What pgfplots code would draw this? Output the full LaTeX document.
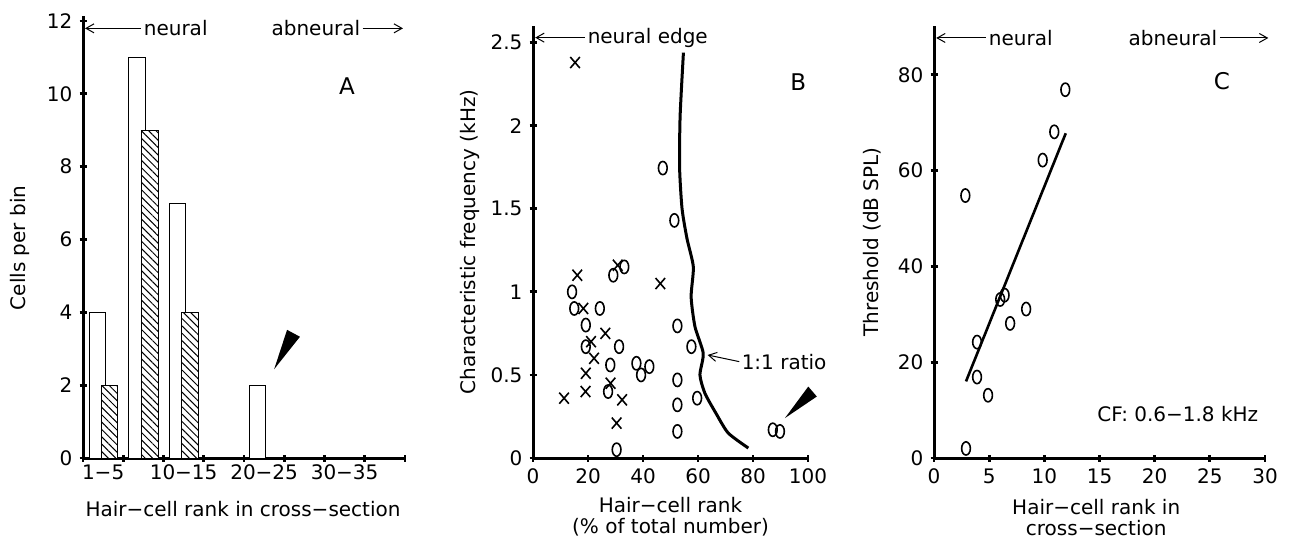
\documentclass[border=0pt]{standalone}
\usepackage{fontspec}
\setmainfont{DejaVu Sans}
\usepackage{pgfplots}
\pgfplotsset{compat=1.18}
\usetikzlibrary{patterns.meta,arrows.meta}

\pgfplotsset{
  panel/.style={
    scale only axis, enlargelimits=false, clip=false,
    axis lines=left, axis line style={-, line width=1.5pt},
    tick align=center, major tick length=3.5pt,
    tick style={black, line width=1.4pt},
    ticklabel style={font=\fontsize{10}{11}\selectfont},
    /pgf/number format/assume math mode=true,
    label style={font=\fontsize{10}{10.5}\selectfont},
  },
  omark/.style={only marks, mark=o, mark size=3.3pt, mark options={xscale=0.66, line width=0.8pt}},
  xmark/.style={only marks, mark=x, mark size=3.4pt, mark options={yscale=1.15, line width=0.8pt}},
}
\tikzset{bb/.tip={Straight Barb[length=4pt,width=4.5pt]}, barb/.style={line width=0.5pt}}

\begin{document}
\begin{tikzpicture}
\useasboundingbox (0,0) rectangle (644.5pt,270.5pt);

% ---- A
\begin{axis}[panel, at={(41.5pt,41.5pt)}, anchor=south west,
  width=161pt, height=221.2pt,
  xmin=0, xmax=8, ymin=0, ymax=12.15,
  xtick={0,...,8}, xticklabels={},
  extra x ticks={0.5,2.5,4.5,6.5},
  extra x tick labels={1−5,10−15,20−25,30−35},
  extra x tick style={major tick length=0pt},
  ytick={0,2,...,12},
  ylabel={Cells per bin},
  ylabel style={at={(axis description cs:-0.196,0.475)}, anchor=center},
  xlabel={Hair−cell rank in cross−section},
  xlabel style={at={(axis description cs:0.497,-0.115)}, anchor=center}]
\addplot[ybar, bar width=0.41, bar shift=0pt, fill=white, draw=black, line width=0.5pt]
  coordinates {(0.355,4)(1.337,11)(2.343,7)(4.335,2)};
\addplot[ybar, bar width=0.41, bar shift=0pt, fill=white, draw=black, line width=0.5pt,
  postaction={pattern={Lines[angle=-45,distance=2.6pt,line width=0.5pt]}}]
  coordinates {(0.663,2)(1.66,9)(2.663,4)};
\draw[bb-, barb] (axis cs:0.05,11.8) -- (axis cs:1.45,11.8) node[right, inner sep=1pt] {neural};
\draw[-bb, barb] (axis cs:6.95,11.8) node[left, inner sep=1pt] {abneural} -- (axis cs:7.95,11.8);
\node[font=\fontsize{11.5}{12}\selectfont] at (axis cs:6.56,10.2) {A};
\fill (axis cs:4.75,2.44) -- (axis cs:5.07,3.52) -- (axis cs:5.39,3.33) -- cycle;
\end{axis}

% ---- B
\begin{axis}[panel, at={(266.5pt,41.5pt)}, anchor=south west,
  width=137.5pt, height=216pt,
  xmin=0, xmax=100, ymin=0, ymax=2.6,
  xtick={0,20,...,100}, ytick={0,0.5,...,2.5},
  ylabel={Characteristic frequency (kHz)},
  ylabel style={at={(axis description cs:-0.229,0.5)}, anchor=center},
  xlabel={Hair−cell rank\\(\% of total number)},
  xlabel style={align=center, at={(axis description cs:0.5,-0.137)}, anchor=center}]
\addplot[omark] coordinates {
  (14.2,1.0)(15.0,0.90)(24.3,0.90)(19.2,0.80)(19.2,0.67)(31.3,0.67)
  (28.1,0.56)(37.6,0.57)(42.3,0.55)(39.3,0.50)(27.3,0.40)(30.4,0.05)
  (29.2,1.10)(33.2,1.15)(47.2,1.745)(51.4,1.43)(52.5,0.795)(57.6,0.67)
  (52.5,0.47)(59.7,0.36)(52.5,0.32)(52.5,0.16)(87.2,0.17)(89.8,0.16)};
\addplot[xmark] coordinates {
  (15.3,2.38)(16.1,1.10)(30.8,1.16)(46.3,1.05)(18.3,0.90)(26.3,0.75)
  (21.1,0.70)(22.2,0.60)(19.2,0.51)(28.2,0.45)(19.1,0.40)(11.3,0.36)
  (32.4,0.35)(30.4,0.21)};
\addplot[black, line width=1.5pt, smooth, tension=0.4, no marks] coordinates {
  (54.7,2.44)(53.5,2.06)(53.3,1.75)(54.2,1.5)(56.0,1.32)(58.3,1.15)
  (57.5,0.97)(58.9,0.79)(61.9,0.63)(60.7,0.5)(62.5,0.39)(66.5,0.27)
  (71,0.15)(78.3,0.06)};
\draw[bb-, barb] (axis cs:0.8,2.53) -- (axis cs:19,2.53) node[right, inner sep=1pt] {neural edge};
\draw[bb-, barb] (axis cs:63.5,0.62) -- (axis cs:75,0.58) node[right, inner sep=1pt] {1:1 ratio};
\node[font=\fontsize{11.5}{12}\selectfont] at (axis cs:96.5,2.26) {B};
\fill (axis cs:91.6,0.24) -- (axis cs:100.1,0.43) -- (axis cs:103.2,0.37) -- cycle;
\end{axis}

% ---- C
\begin{axis}[panel, at={(467pt,41.5pt)}, anchor=south west,
  width=165.5pt, height=216pt,
  xmin=0, xmax=30, ymin=0, ymax=90.2,
  xtick={0,5,...,30}, ytick={0,20,...,80},
  ylabel={Threshold (dB SPL)},
  ylabel style={at={(axis description cs:-0.187,0.5)}, anchor=center},
  xlabel={Hair−cell rank in\\cross−section},
  xlabel style={align=center, at={(axis description cs:0.49,-0.138)}, anchor=center}]
\addplot[omark] coordinates {
  (11.9,76.9)(10.9,68.1)(9.85,62.2)(2.84,54.8)(6.0,33.1)(6.4,34.0)
  (8.35,31.1)(6.9,28.1)(3.9,24.2)(3.9,16.9)(4.9,13.1)(2.9,2.0)};
\addplot[black, line width=1.3pt, no marks] coordinates {(2.9,16.0)(11.94,67.8)};
\draw[bb-, barb] (axis cs:0.2,87.7) -- (axis cs:4.75,87.7) node[right, inner sep=1pt] {neural};
\draw[-bb, barb] (axis cs:25.9,87.7) node[left, inner sep=1pt] {abneural} -- (axis cs:30.3,87.7);
\node[font=\fontsize{11.5}{12}\selectfont] at (axis cs:26.1,78.6) {C};
\node[anchor=east, inner sep=1pt] at (axis cs:29.6,9.2) {CF: 0.6−1.8 kHz};
\end{axis}
\end{tikzpicture}
\end{document}
